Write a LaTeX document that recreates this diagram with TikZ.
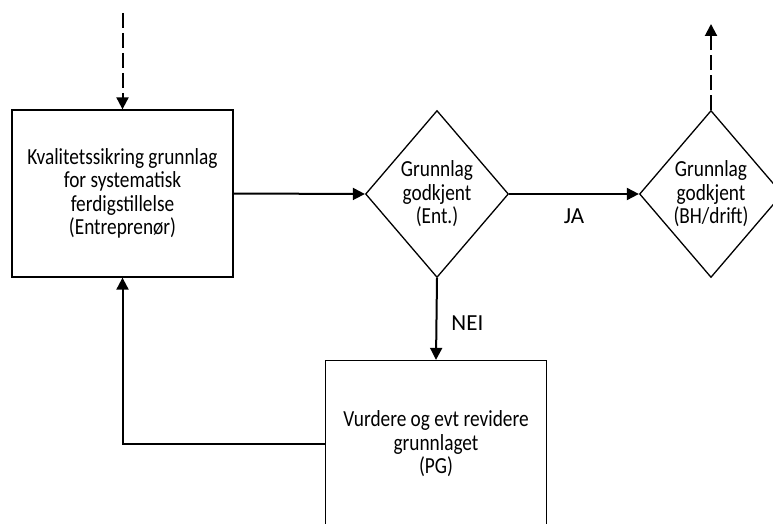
\documentclass[tikz,border=0pt]{standalone}
\usepackage{fontspec}
\setmainfont{Carlito}
\newfontfamily\boksfont{Carlito}[FakeStretch=0.84]
\usetikzlibrary{shapes.geometric,arrows.meta}

\begin{document}
\begin{tikzpicture}[x=1pt,y=-1pt,
  boks/.style={draw,line width=1.3pt,minimum width=221pt,minimum height=167pt,inner sep=0pt,align=center,font=\boksfont\fontsize{23}{23.5}\selectfont},
  rute/.style={draw,diamond,line width=1.3pt,minimum width=143pt,minimum height=167pt,inner sep=0pt,align=center,font=\boksfont\fontsize{23}{23.5}\selectfont},
  etikett/.style={font=\fontsize{23}{23}\selectfont,inner sep=0pt},
  pil/.style={line width=2pt,-{Triangle[length=12pt,width=12pt]}},
  stiplet/.style={pil,dash pattern=on 15pt off 5pt}]
\useasboundingbox (0,0) rectangle (773,524);
\node[boks] (kvalitet) at (122.5,193.5) {Kvalitetssikring grunnlag\\for systematisk\\ferdigstillelse\\(Entreprenør)};
\node[rute] (entgodkjent) at (437,194) {Grunnlag\\godkjent\\(Ent.)};
\node[rute] (bhgodkjent) at (711,194) {Grunnlag\\godkjent\\(BH/drift)};
\node[boks] (vurdere) at (436,444) {Vurdere og evt revidere\\grunnlaget\\(PG)};
\coordinate (inn) at (122.5,13);
\coordinate (ut) at (711,24);
\draw[stiplet] (inn) -- (kvalitet.north);
\draw[pil] (kvalitet.east) -- (entgodkjent.west);
\draw[pil] (entgodkjent.east) -- (bhgodkjent.west) node[etikett,pos=0.5,below=14pt] (ja) {JA};
\draw[pil] (entgodkjent.south) -- (vurdere.north) node[etikett,pos=0.55,right=14pt] (nei) {NEI};
\draw[pil] (vurdere.west) -| (kvalitet.south);
\draw[stiplet] (bhgodkjent.north) -- (ut);
\end{tikzpicture}
\end{document}
